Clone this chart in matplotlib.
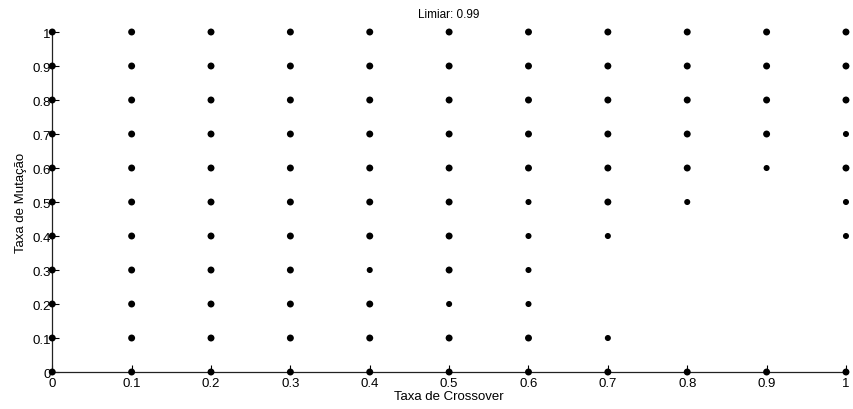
import matplotlib
matplotlib.use("Agg")
import matplotlib.pyplot as plt
import numpy as np

plt.rcParams['font.family'] = ['Liberation Sans', 'DejaVu Sans']

# Crossover rate, mutation rate grid and marker size class (2 = big, 1 = small)
crossover = [0.0, 0.1, 0.2, 0.3, 0.4, 0.5, 0.6, 0.7, 0.8, 0.9, 1.0]
mutation = [0.0, 0.1, 0.2, 0.3, 0.4, 0.5, 0.6, 0.7, 0.8, 0.9, 1.0]

# rows: mutation 0.0 .. 1.0 ; columns: crossover 0.0 .. 1.0 ; 0 = no point
size_class = [
    [2, 2, 2, 2, 2, 2, 2, 2, 2, 2, 2],  # 0.0
    [2, 2, 2, 2, 2, 2, 2, 1, 0, 0, 0],  # 0.1
    [2, 2, 2, 2, 2, 1, 1, 0, 0, 0, 0],  # 0.2
    [2, 2, 2, 2, 1, 2, 1, 0, 0, 0, 0],  # 0.3
    [2, 2, 2, 2, 2, 2, 1, 1, 0, 0, 1],  # 0.4
    [2, 2, 2, 2, 2, 2, 1, 2, 1, 0, 1],  # 0.5
    [2, 2, 2, 2, 2, 2, 2, 2, 2, 1, 2],  # 0.6
    [2, 2, 2, 2, 2, 2, 2, 2, 2, 2, 1],  # 0.7
    [2, 2, 2, 2, 2, 2, 2, 2, 2, 2, 2],  # 0.8
    [2, 2, 2, 2, 2, 2, 2, 2, 2, 2, 2],  # 0.9
    [2, 2, 2, 2, 2, 2, 2, 2, 2, 2, 2],  # 1.0
]

title = "Limiar: 0.99"
xlabel = "Taxa de Crossover"
ylabel = "Taxa de Mutação"
tick_values = [0, 0.1, 0.2, 0.3, 0.4, 0.5, 0.6, 0.7, 0.8, 0.9, 1]
tick_labels = ["0", "0.1", "0.2", "0.3", "0.4", "0.5", "0.6", "0.7", "0.8", "0.9", "1"]

fig = plt.figure(figsize=(8.54, 4.10), dpi=100)
ax = fig.add_axes([0.0612, 0.0902, 0.9294, 0.8293])

area = {1: 19.0, 2: 25.0}
xs, ys, ss = [], [], []
for i, m in enumerate(mutation):
    for j, c in enumerate(crossover):
        k = size_class[i][j]
        if k:
            xs.append(c)
            ys.append(m)
            ss.append(area[k])

ax.scatter(xs, ys, s=ss, c='black', edgecolors='none', clip_on=False, zorder=3)

ax.set_xlim(0, 1)
ax.set_ylim(0, 1)
ax.set_xticks(tick_values)
ax.set_xticklabels(tick_labels)
ax.set_yticks(tick_values)
ax.set_yticklabels(tick_labels)

for side in ('top', 'right'):
    ax.spines[side].set_visible(False)
for side in ('left', 'bottom'):
    ax.spines[side].set_linewidth(0.9)
    ax.spines[side].set_color('#222222')

ax.tick_params(direction='in', length=5, width=0.8, labelsize=9.5, colors='black')
ax.tick_params(axis='x', pad=3.5)
ax.tick_params(axis='y', pad=1)

ax.set_title(title, fontsize=8.5, pad=11)
ax.set_xlabel(xlabel, fontsize=9.5, labelpad=0.5)
ax.set_ylabel(ylabel, fontsize=9.5, labelpad=4)

fig.savefig("out.png", dpi=100)
